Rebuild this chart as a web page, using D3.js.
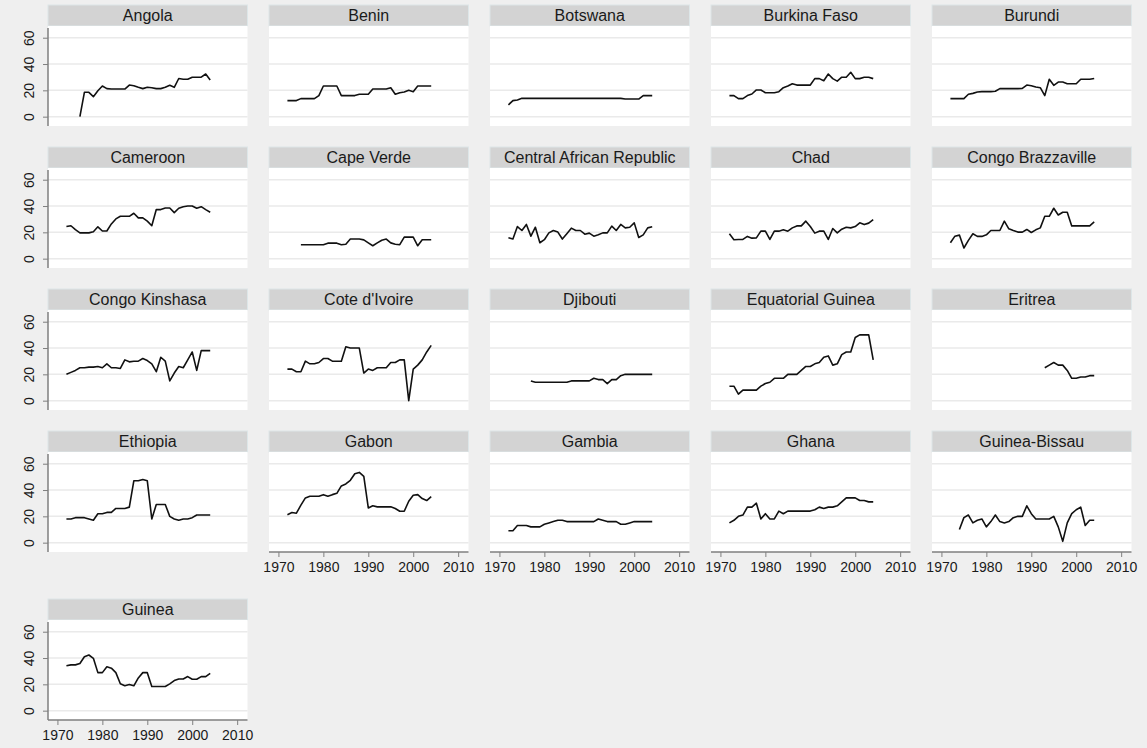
<!DOCTYPE html>
<html>
<head>
<meta charset="utf-8">
<script src="https://cdn.jsdelivr.net/npm/d3@7"></script>
<style>
  html, body { margin: 0; padding: 0; background: #efefef; }
  svg { display: block; font-family: Arial, "Liberation Sans", sans-serif; }
</style>
</head>
<body>
<svg id="chart" width="1147" height="748"></svg>
<script>
// Panel titles, in display order (5 per row)
const countries = [
  "Angola", "Benin", "Botswana", "Burkina Faso", "Burundi",
  "Cameroon", "Cape Verde", "Central African Republic", "Chad", "Congo Brazzaville",
  "Congo Kinshasa", "Cote d'Ivoire", "Djibouti", "Equatorial Guinea", "Eritrea",
  "Ethiopia", "Gabon", "Gambia", "Ghana", "Guinea-Bissau",
  "Guinea"
];

// First year of each series; values then run one per year to 2004
const firstYear = [
  1975, 1972, 1972, 1972, 1972,
  1972, 1975, 1972, 1972, 1972,
  1972, 1972, 1977, 1972, 1993,
  1972, 1972, 1972, 1972, 1974,
  1972
];

const angola = [0, 18.5, 18.5, 15.2, 19.7, 23.3, 21.3, 21, 21, 21, 21, 24, 23.5, 22.3, 21.3,
  22.3, 22, 21.3, 21.3, 22.3, 23.8, 22.3, 29, 28.4, 28.4, 30, 30, 30, 32.4, 27.8];
const benin = [12.2, 12.2, 12.2, 13.7, 13.7, 13.7, 13.7, 16, 23.3, 23.3, 23.3, 23.3, 16, 16, 16,
  16, 17, 17, 17, 21, 21, 21, 21, 22, 17, 18.2, 18.7, 20, 19, 23.3, 23.3, 23.3, 23.3];
const botswana = [9, 12.2, 12.7, 13.9, 13.9, 13.9, 13.9, 13.9, 13.9, 13.9, 13.9, 13.9, 13.9, 13.9,
  13.9, 13.9, 13.9, 13.9, 13.9, 13.9, 13.9, 13.9, 13.9, 13.9, 13.9, 13.9, 13.4, 13.4, 13.4, 13.4,
  16, 16, 16];
const burkinaFaso = [16, 16, 13.7, 13.7, 16, 17.2, 20.3, 20.3, 18.2, 18.2, 18.2, 19, 22, 23.3, 25,
  24, 24, 24, 24, 28.9, 28.9, 27.3, 32.4, 28.9, 27, 30, 30, 33.7, 28.9, 28.9, 30, 30, 28.9];
const burundi = [13.7, 13.7, 13.7, 13.7, 17, 17.7, 18.7, 19, 19, 19, 19.3, 21.3, 21.3, 21.3,
  21.3, 21.3, 21.5, 24, 23.5, 22.5, 22, 16, 28.4, 23.8, 26.3, 26.3, 25, 25, 25, 28.4, 28.4, 28.4, 29];
const cameroon = [24.4, 25, 22, 19.6, 19.6, 19.6, 20.5, 24.2, 21, 21, 26.4, 30.2, 32.2, 32.2, 32.2,
  34.5, 31, 31, 28.5, 25, 37.3, 37.3, 38.5, 38.5, 35, 38.3, 39.5, 40, 40, 38.3, 39.5, 37.3, 35.3];
const capeVerde = [10.6, 10.6, 10.6, 10.6, 10.6, 10.6, 11.8, 11.8, 11.8, 10.6, 11, 14.9, 14.9, 14.9,
  14.3, 12, 9.8, 12, 14, 14.9, 12, 11, 10.6, 16.4, 16.4, 16.4, 9.8, 14.4, 14.4, 14.4];
const centralAfricanRepublic = [15.9, 14.9, 24.4, 21.4, 26, 17.1, 23.9, 12.1, 14.4, 19.6, 21.4, 20.2,
  14.9, 19, 23.2, 21.4, 21.4, 18.6, 19.4, 17.1, 18.1, 19.6, 19.6, 24.7, 21.4, 26, 23.4, 23.9, 27.2,
  16.1, 18.1, 23.4, 24.2];
const chad = [18.9, 14.4, 14.6, 14.6, 16.9, 15.6, 15.8, 20.9, 20.9, 14.6, 20.9, 20.9, 21.9, 20.9,
  23.4, 24.9, 24.9, 28.5, 24.4, 19.4, 20.9, 20.9, 14.6, 22.9, 19.6, 22.4, 23.9, 23.4, 24.4, 27.2,
  25.9, 27, 29.7];
const congoBrazzaville = [12.1, 17.1, 17.9, 8.1, 13.9, 18.9, 16.9, 16.9, 18.1, 21.4, 21.4, 21.4,
  28.5, 22.7, 21.4, 20.2, 20.2, 22.2, 19.9, 21.9, 23.4, 32.2, 32.2, 38.3, 33.2, 35.3, 35.3, 24.9,
  24.9, 24.9, 24.9, 24.9, 27.9];
const congoKinshasa = [20, 21.5, 23, 25, 25, 25.5, 25.5, 26, 25, 28, 25, 25, 24.5, 31, 29.5, 30,
  30, 32, 30.5, 28, 22, 33, 30, 15, 21, 26, 25, 31, 37, 23, 38, 38, 38];
const coteDIvoire = [24, 24, 22, 22, 30, 28, 28, 29, 32, 32, 30, 30, 30, 41, 40, 40, 40, 21, 24,
  23, 25, 25, 25, 29, 29, 31, 31, 0, 24, 27, 31, 37, 42];
const djibouti = [15, 14, 14, 14, 14, 14, 14, 14, 14, 15, 15, 15, 15, 15, 17, 16, 16, 13, 16, 16,
  19, 20, 20, 20, 20, 20, 20, 20];
const equatorialGuinea = [11, 11, 5, 8, 8, 8, 8, 11, 13, 14, 17, 17, 17, 20, 20, 20, 23, 26, 26,
  28, 29, 33, 34, 27, 28, 35, 37, 37, 48, 50, 50, 50, 31];
const eritrea = [25, 27, 29, 27, 27, 23, 17, 17, 18, 18, 19, 19];
const ethiopia = [18, 18, 19, 19, 19, 18, 17, 22, 22, 23, 23, 26, 26, 26, 27, 47, 47, 48, 47, 18,
  29, 29, 29, 20, 18, 17, 18, 18, 19, 21, 21, 21, 21];
const gabon = [21.2, 22.9, 22.4, 28.5, 34, 35.3, 35.3, 35.3, 36.5, 35.3, 36.5, 37.5, 43.1, 44.6,
  47.4, 52.4, 53.4, 50.4, 26.4, 28, 27.2, 27.2, 27.2, 27.2, 26, 23.9, 23.9, 31.5, 36, 36.5, 33.5,
  32, 35];
const gambia = [9, 9, 13, 13, 13, 12, 12, 12, 14, 15, 16, 17, 17, 16, 16, 16, 16, 16, 16, 16, 18,
  17, 16, 16, 16, 14, 14, 15, 16, 16, 16, 16, 16];
const ghana = [15, 17, 20, 21, 27, 27, 30, 18, 22, 18, 18, 24, 22, 24, 24, 24, 24, 24, 24, 25, 27,
  26, 27, 27, 28, 31, 34, 34, 34, 32, 32, 31, 31];
const guineaBissau = [10, 19, 21, 15, 17, 18, 12, 16, 21, 16, 15, 16, 19, 20, 20, 28, 22, 18, 18,
  18, 18, 20, 12, 1, 15, 22, 25, 27, 13, 17, 17];
const guinea = [34.1, 34.8, 34.8, 35.8, 41, 42.3, 39.8, 28.9, 28.9, 33.3, 32.3, 28.9, 20.4, 18.9,
  19.9, 18.9, 24.9, 28.9, 28.9, 18.4, 18.4, 18.4, 18.4, 20.4, 22.9, 24.1, 24.1, 25.9, 23.9, 23.9,
  25.9, 25.9, 28.4];

const values = [
  angola, benin, botswana, burkinaFaso, burundi,
  cameroon, capeVerde, centralAfricanRepublic, chad, congoBrazzaville,
  congoKinshasa, coteDIvoire, djibouti, equatorialGuinea, eritrea,
  ethiopia, gabon, gambia, ghana, guineaBissau,
  guinea
];

// Axis ticks
const yTicks = [0, 20, 40, 60];
const xTicks = [1970, 1980, 1990, 2000, 2010];
const xDomain = [1967.9, 2012.3];
const yDomain = [-7.1, 68.9];

// Layout of the grid of panels
const cols = 5;
const panelLeft = 48, colPitch = 221, panelW = 199.5;
const rowTops = [5, 147, 289, 431, 599];
const stripH = 21, plotH = 100;

const colors = {
  strip: "#d3d3d3",
  stripEdge: "#dde6e8",
  plot: "#ffffff",
  grid: "#eaeaea",
  axis: "#7f7f7f",
  text: "#1a1a1a",
  line: "#111111"
};

const svg = d3.select("#chart");

const lineGen = (x, y) => d3.line().x(d => x(d.year)).y(d => y(d.value));

countries.forEach((name, i) => {
  const r = Math.floor(i / cols), c = i % cols;
  const left = panelLeft + c * colPitch;
  const stripTop = rowTops[r];
  const plotTop = stripTop + stripH;
  const plotBottom = plotTop + plotH;

  const x = d3.scaleLinear().domain(xDomain).range([left, left + panelW]);
  const y = d3.scaleLinear().domain(yDomain).range([plotBottom, plotTop]);

  const g = svg.append("g").attr("class", "panel");

  // title strip
  g.append("rect")
    .attr("x", left).attr("y", stripTop)
    .attr("width", panelW).attr("height", stripH)
    .attr("fill", colors.strip)
    .attr("stroke", colors.stripEdge).attr("stroke-width", 1);
  g.append("text")
    .attr("x", left + panelW / 2).attr("y", stripTop + stripH / 2 + 5.5)
    .attr("text-anchor", "middle")
    .attr("font-size", 16)
    .attr("fill", colors.text)
    .text(name);

  // plot region
  g.append("rect")
    .attr("x", left).attr("y", plotTop)
    .attr("width", panelW).attr("height", plotH)
    .attr("fill", colors.plot);

  // horizontal grid lines
  g.selectAll("line.grid").data(yTicks).join("line")
    .attr("class", "grid")
    .attr("x1", left).attr("x2", left + panelW)
    .attr("y1", d => y(d)).attr("y2", d => y(d))
    .attr("stroke", colors.grid).attr("stroke-width", 1.5);

  // y axis on the first column
  if (c === 0) {
    const yAxis = d3.axisLeft(y).tickValues(yTicks).tickSize(5).tickPadding(7);
    const ga = g.append("g").attr("transform", `translate(${left},0)`).call(yAxis);
    ga.select(".domain").remove();
    ga.append("line")
      .attr("x1", 0).attr("x2", 0)
      .attr("y1", plotTop + 2).attr("y2", plotBottom)
      .attr("stroke", colors.axis).attr("stroke-width", 1.5);
    ga.selectAll(".tick line").attr("stroke", colors.axis).attr("stroke-width", 1);
    ga.selectAll(".tick text")
      .attr("font-size", 14)
      .attr("fill", colors.text)
      .attr("font-family", "Arial, 'Liberation Sans', sans-serif")
      .attr("text-anchor", "middle")
      .attr("transform", "rotate(-90)")
      .attr("x", 0)
      .attr("dy", null)
      .attr("y", -14);
  }

  // x axis on the bottom panel of each column
  const isBottom = (i + cols >= countries.length);
  if (isBottom) {
    const xAxis = d3.axisBottom(x).tickValues(xTicks).tickFormat(d3.format("d")).tickSize(5).tickPadding(5);
    const gx = g.append("g").attr("transform", `translate(0,${plotBottom})`).call(xAxis);
    gx.select(".domain").remove();
    gx.append("line")
      .attr("x1", left).attr("x2", left + panelW)
      .attr("y1", 0).attr("y2", 0)
      .attr("stroke", colors.axis).attr("stroke-width", 1.5);
    gx.selectAll(".tick line").attr("stroke", colors.axis).attr("stroke-width", 1);
    gx.selectAll(".tick text")
      .attr("font-size", 14)
      .attr("fill", colors.text)
      .attr("font-family", "Arial, 'Liberation Sans', sans-serif");
  }

  // series line
  const pts = values[i].map((v, k) => ({ year: firstYear[i] + k, value: v }));
  g.append("path")
    .datum(pts)
    .attr("d", lineGen(x, y))
    .attr("fill", "none")
    .attr("stroke", colors.line)
    .attr("stroke-width", 1.6)
    .attr("stroke-linejoin", "round");
});
</script>
</body>
</html>
